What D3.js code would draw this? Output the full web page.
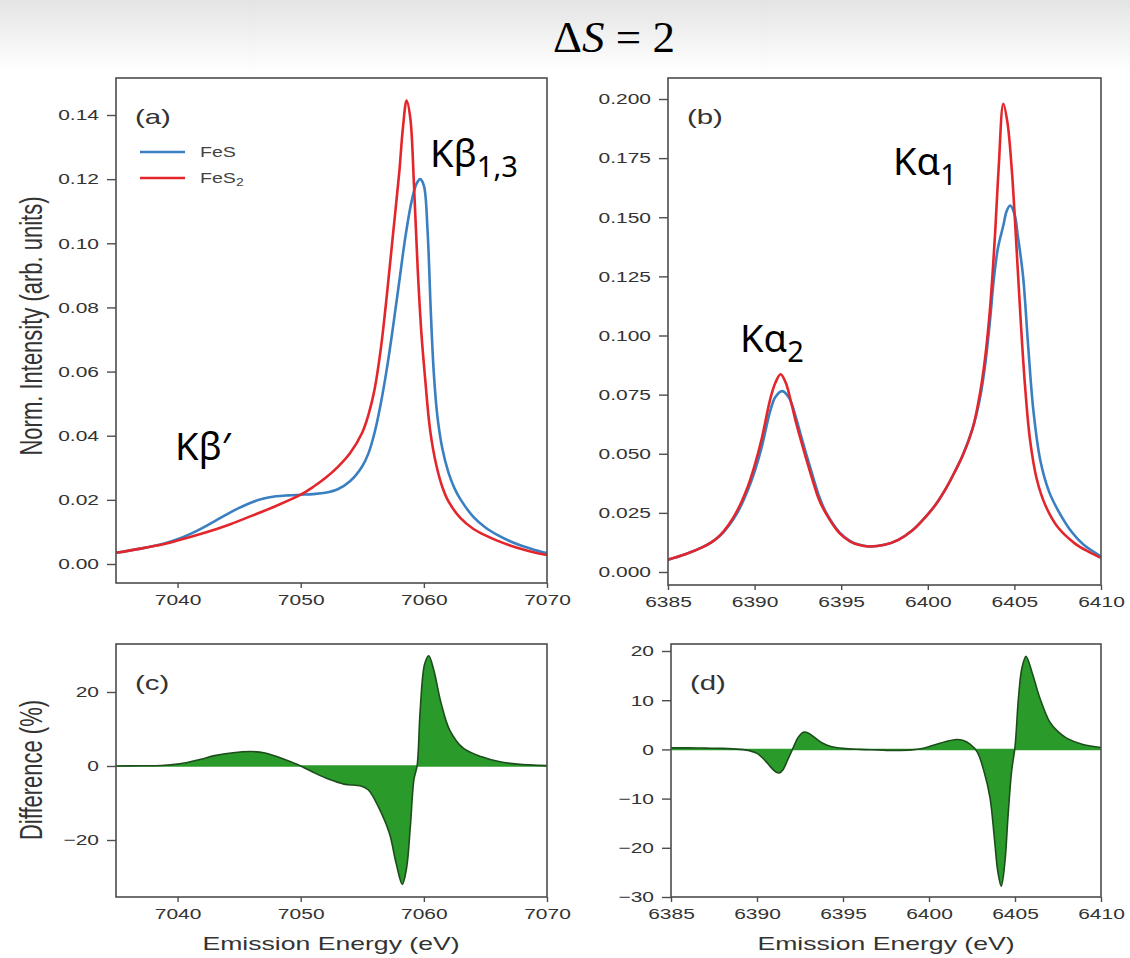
<!DOCTYPE html>
<html>
<head>
<meta charset="utf-8">
<script src="https://cdn.jsdelivr.net/npm/d3@7"></script>
<style>
  body { margin: 0; background: #fff; }
  svg { display: block; }
  .tick text { font-family: "Liberation Sans", Arial, sans-serif; font-size: 15px; fill: #333; }
  .tick line { stroke: #4d4d4d; stroke-width: 1.4; }
</style>
</head>
<body>
<svg width="1130" height="958"></svg>
<script>
// Kbeta region, panel (a)
const kbEnergyFeS = [7035, 7037, 7039, 7040, 7041, 7042, 7043, 7044, 7045, 7046, 7047, 7048, 7049, 7050, 7051, 7052, 7053, 7054, 7055, 7055.5, 7056, 7056.5, 7057, 7057.5, 7058, 7058.5, 7059, 7059.4, 7059.7, 7060, 7060.3, 7060.55, 7060.8, 7061.1, 7061.5, 7062, 7062.5, 7063, 7064, 7065, 7066, 7067, 7068, 7069, 7070];
const kbIntensityFeS = [0.0035, 0.0048, 0.0065, 0.0077, 0.0093, 0.0112, 0.0133, 0.0155, 0.0175, 0.0192, 0.0204, 0.0211, 0.0214, 0.0216, 0.0218, 0.0222, 0.0233, 0.0258, 0.0305, 0.0345, 0.0410, 0.0500, 0.0610, 0.0740, 0.0880, 0.1020, 0.1130, 0.1185, 0.1200, 0.1180, 0.1040, 0.0800, 0.0600, 0.0460, 0.0360, 0.0285, 0.0235, 0.0200, 0.0148, 0.0114, 0.0090, 0.0071, 0.0056, 0.0044, 0.0034];
const kbEnergyFeS2 = [7035, 7037, 7039, 7040, 7042, 7044, 7046, 7048, 7050, 7051, 7052, 7053, 7054, 7055, 7055.5, 7056, 7056.5, 7057, 7057.5, 7058, 7058.3, 7058.6, 7058.9, 7059.2, 7059.5, 7059.8, 7060.1, 7060.5, 7061, 7061.5, 7062, 7063, 7064, 7065, 7066, 7067, 7068, 7069, 7070];
const kbIntensityFeS2 = [0.0035, 0.0048, 0.0063, 0.0073, 0.0095, 0.0120, 0.0150, 0.0181, 0.0216, 0.0240, 0.0268, 0.0302, 0.0345, 0.0410, 0.0465, 0.0545, 0.0670, 0.0840, 0.1030, 0.1220, 0.1360, 0.1445, 0.1390, 0.1180, 0.0920, 0.0720, 0.0580, 0.0420, 0.0310, 0.0240, 0.0195, 0.0142, 0.0110, 0.0089, 0.0072, 0.0058, 0.0046, 0.0036, 0.0028];

// Kalpha region, panel (b)
const kaEnergyFeS = [6385, 6386, 6387, 6387.5, 6388, 6388.5, 6389, 6389.6, 6390, 6390.4, 6390.9, 6391.2, 6391.6, 6392.0, 6392.4, 6392.7, 6393.3, 6393.7, 6394.1, 6394.9, 6395.5, 6396, 6396.6, 6397.5, 6398.3, 6399.1, 6399.9, 6400.5, 6401.1, 6401.6, 6402, 6402.6, 6403, 6403.3, 6403.6, 6403.8, 6404.05, 6404.36, 6404.55, 6404.75, 6405.0, 6405.2, 6405.5, 6405.8, 6406.1, 6406.5, 6407, 6407.6, 6408.3, 6409, 6410];
const kaIntensityFeS = [0.0052, 0.0075, 0.0105, 0.0125, 0.0153, 0.0195, 0.0250, 0.0345, 0.0425, 0.0525, 0.0680, 0.0740, 0.0765, 0.0735, 0.0650, 0.0570, 0.0420, 0.0325, 0.0255, 0.0168, 0.0132, 0.0116, 0.0108, 0.0115, 0.0136, 0.0175, 0.0235, 0.0290, 0.0360, 0.0430, 0.0490, 0.0610, 0.0730, 0.0870, 0.1070, 0.1230, 0.1370, 0.1465, 0.1525, 0.1550, 0.1515, 0.1420, 0.1250, 0.0950, 0.0680, 0.0470, 0.0340, 0.0250, 0.0170, 0.0115, 0.0066];
const kaEnergyFeS2 = [6385, 6386, 6387, 6387.5, 6388, 6388.5, 6389, 6389.6, 6390, 6390.4, 6390.9, 6391.2, 6391.5, 6391.8, 6392.1, 6392.4, 6392.7, 6393.3, 6393.7, 6394.1, 6394.9, 6395.5, 6396, 6396.6, 6397.5, 6398.3, 6399.1, 6399.9, 6400.5, 6401.1, 6401.6, 6402, 6402.6, 6403, 6403.3, 6403.6, 6403.9, 6404.1, 6404.36, 6404.6, 6404.85, 6405.1, 6405.35, 6405.6, 6405.9, 6406.3, 6406.8, 6407.5, 6408.5, 6409.3, 6410];
const kaIntensityFeS2 = [0.0052, 0.0075, 0.0105, 0.0125, 0.0155, 0.0200, 0.0260, 0.0360, 0.0450, 0.0560, 0.0730, 0.0800, 0.0836, 0.0800, 0.0720, 0.0630, 0.0550, 0.0400, 0.0310, 0.0250, 0.0164, 0.0130, 0.0115, 0.0108, 0.0115, 0.0136, 0.0175, 0.0235, 0.0290, 0.0360, 0.0430, 0.0490, 0.0610, 0.0750, 0.0900, 0.1120, 0.1450, 0.1720, 0.1980, 0.1900, 0.1700, 0.1400, 0.1080, 0.0800, 0.0560, 0.0390, 0.0280, 0.0190, 0.0120, 0.0085, 0.0060];

// difference spectra, panels (c) and (d)
const kbDiffEnergy = [7035, 7037, 7038.7, 7040, 7040.7, 7041.9, 7043, 7044.5, 7046, 7047.1, 7048.6, 7050, 7051.2, 7052.3, 7053.5, 7054.9, 7055.5, 7056.3, 7057.2, 7057.75, 7058.25, 7058.6, 7058.9, 7059.2, 7059.45, 7059.7, 7060.06, 7060.4, 7060.8, 7061.4, 7062.1, 7063.2, 7064.7, 7066.1, 7067.6, 7070];
const kbDiff = [0, 0.05, 0.15, 0.5, 0.9, 1.8, 2.8, 3.6, 3.9, 3.5, 1.9, 0, -2.0, -3.6, -4.9, -5.4, -6.5, -11, -18.2, -26.3, -32, -27.5, -16.5, -3.5, 0, 15, 27.5, 29.8, 26, 17, 9.7, 4.8, 2.5, 1.2, 0.5, 0.1];
const kaDiffEnergy = [6385, 6386, 6387, 6388, 6389, 6389.6, 6390, 6390.4, 6390.8, 6391.1, 6391.3, 6391.5, 6391.8, 6392.1, 6392.4, 6392.7, 6393.0, 6393.4, 6393.8, 6394.3, 6395, 6396, 6397, 6398, 6399, 6399.6, 6400.3, 6401, 6401.6, 6402, 6402.4, 6402.8, 6403.2, 6403.55, 6403.8, 6404.0, 6404.2, 6404.4, 6404.6, 6404.8, 6405.0, 6405.2, 6405.4, 6405.64, 6405.97, 6406.26, 6406.45, 6407, 6407.5, 6408, 6408.95, 6410];
const kaDiff = [0.3, 0.3, 0.25, 0.2, 0.0, -0.3, -0.8, -2.0, -3.6, -4.6, -4.8, -4.2, -2.0, 0.3, 2.5, 3.5, 3.3, 2.3, 1.3, 0.6, 0.2, 0.0, -0.1, -0.2, -0.1, 0.2, 0.9, 1.6, 2.0, 1.8, 1.0, -0.5, -4.5, -9.9, -18, -24.8, -27.8, -23.4, -13.3, -4.5, 0.5, 10.4, 16.5, 18.9, 15.9, 12.5, 10.4, 5.7, 3.6, 2.3, 1.0, 0.4];

const kbTicksX = [7040, 7050, 7060, 7070];
const kaTicksX = [6385, 6390, 6395, 6400, 6405, 6410];
const kbTicksY = [0, 0.02, 0.04, 0.06, 0.08, 0.10, 0.12, 0.14];
const kaTicksY = [0, 0.025, 0.05, 0.075, 0.1, 0.125, 0.15, 0.175, 0.2];
const kbDiffTicksY = [-20, 0, 20];
const kaDiffTicksY = [-30, -20, -10, 0, 10, 20];
const seriesNames = ["FeS", "FeS2"];

const blue = "#3a7fc1", red = "#e3262c", green = "#2a9a2a", darkGreen = "#1d4d1d";
const smooth = d3.curveCatmullRom.alpha(0.5);
const S = 1.4; // the figure text is stretched sideways in the original

const svg = d3.select("svg");

// faint slide background at the top
const defs = svg.append("defs");
const grad = defs.append("linearGradient").attr("id", "topfade").attr("x1", 0).attr("y1", 0).attr("x2", 0).attr("y2", 1);
grad.append("stop").attr("offset", "0%").attr("stop-color", "#e4e4e4");
grad.append("stop").attr("offset", "100%").attr("stop-color", "#ffffff");
svg.append("rect").attr("width", 1130).attr("height", 72).attr("fill", "url(#topfade)");

// title
const title = svg.append("text")
    .attr("x", 614).attr("y", 52)
    .attr("text-anchor", "middle")
    .style("font-family", "'Liberation Serif', 'DejaVu Serif', serif")
    .style("font-size", "45px")
    .style("fill", "#000");
title.append("tspan").text("Δ");
title.append("tspan").style("font-style", "italic").text("S");
title.append("tspan").text(" = 2");

const zip = (xs, ys) => xs.map((x, i) => [x, ys[i]]);
const figText = (sel, x, y, size) => sel.append("text")
    .attr("transform", `translate(${x},${y}) scale(${S},1)`)
    .style("font-family", "'Liberation Sans', Arial, sans-serif")
    .style("font-size", size + "px").style("fill", "#333");

function makePanel(o) {
    const x = d3.scaleLinear().domain(o.xTickDomain).range(o.xTickRange);
    const y = d3.scaleLinear().domain(o.yTickDomain).range(o.yTickRange);
    const g = svg.append("g");
    const id = "clip" + o.label;
    defs.append("clipPath").attr("id", id).append("rect")
        .attr("x", o.left).attr("y", o.top)
        .attr("width", o.right - o.left).attr("height", o.bottom - o.top);

    g.append("g").attr("transform", `translate(0,${o.bottom})`)
        .call(d3.axisBottom(x).tickValues(o.xTicks).tickSize(5).tickPadding(6).tickFormat(d3.format("d")))
        .call(a => a.select(".domain").remove())
        .call(a => a.selectAll(".tick text").attr("transform", `scale(${S},1)`));
    g.append("g").attr("transform", `translate(${o.left},0)`)
        .call(d3.axisLeft(y).tickValues(o.yTicks).tickSize(9).tickPadding(8).tickFormat(o.yFormat))
        .call(a => a.select(".domain").remove())
        .call(a => a.selectAll(".tick text").attr("x", -17 / S).attr("transform", `scale(${S},1)`));

    const plot = g.append("g").attr("clip-path", `url(#${id})`);
    g.append("rect")
        .attr("x", o.left).attr("y", o.top)
        .attr("width", o.right - o.left).attr("height", o.bottom - o.top)
        .attr("fill", "none").attr("stroke", "#4d4d4d").attr("stroke-width", 1.6);

    figText(g, o.left + 19, o.top + 46, 21).text(`(${o.label})`);
    return { x, y, plot, g };
}

const minus = d => d < 0 ? "\u2212" + Math.abs(d) : String(d);

// panel (a)
const pa = makePanel({
    label: "a", left: 116, right: 547, top: 78, bottom: 583,
    xTickDomain: [7035, 7070], xTickRange: [116, 547],
    yTickDomain: [0, 0.14], yTickRange: [564, 115],
    xTicks: kbTicksX, yTicks: kbTicksY, yFormat: d3.format(".2f")
});
const lineA = d3.line().x(d => pa.x(d[0])).y(d => pa.y(d[1])).curve(smooth);
pa.plot.append("path").datum(zip(kbEnergyFeS, kbIntensityFeS))
    .attr("d", lineA).attr("fill", "none").attr("stroke", blue).attr("stroke-width", 2.6);
pa.plot.append("path").datum(zip(kbEnergyFeS2, kbIntensityFeS2))
    .attr("d", lineA).attr("fill", "none").attr("stroke", red).attr("stroke-width", 2.6);

// legend in (a)
const legend = pa.g.append("g");
[blue, red].forEach((c, i) => {
    legend.append("line").attr("x1", 140).attr("x2", 185)
        .attr("y1", 152 + i * 26).attr("y2", 152 + i * 26)
        .attr("stroke", c).attr("stroke-width", 2.6);
    const t = figText(legend, 200, 157 + i * 26, 14).style("fill", "#444");
    t.append("tspan").text(seriesNames[i].replace(/2$/, ""));
    if (/2$/.test(seriesNames[i])) t.append("tspan").attr("dy", 3).style("font-size", "10px").text("2");
});

// panel (b)
const pb = makePanel({
    label: "b", left: 668, right: 1101, top: 78, bottom: 585,
    xTickDomain: [6385, 6410], xTickRange: [668, 1101],
    yTickDomain: [0, 0.2], yTickRange: [572, 99],
    xTicks: kaTicksX, yTicks: kaTicksY, yFormat: d3.format(".3f")
});
const lineB = d3.line().x(d => pb.x(d[0])).y(d => pb.y(d[1])).curve(smooth);
pb.plot.append("path").datum(zip(kaEnergyFeS, kaIntensityFeS))
    .attr("d", lineB).attr("fill", "none").attr("stroke", blue).attr("stroke-width", 2.6);
pb.plot.append("path").datum(zip(kaEnergyFeS2, kaIntensityFeS2))
    .attr("d", lineB).attr("fill", "none").attr("stroke", red).attr("stroke-width", 2.6);

// panel (c)
const pc = makePanel({
    label: "c", left: 116, right: 547, top: 644, bottom: 897,
    xTickDomain: [7035, 7070], xTickRange: [116, 547],
    yTickDomain: [-20, 20], yTickRange: [840, 692],
    xTicks: kbTicksX, yTicks: kbDiffTicksY, yFormat: minus
});
const areaC = d3.area().x(d => pc.x(d[0])).y0(pc.y(0)).y1(d => pc.y(d[1])).curve(smooth);
const lineC = d3.line().x(d => pc.x(d[0])).y(d => pc.y(d[1])).curve(smooth);
const dataC = zip(kbDiffEnergy, kbDiff);
pc.plot.append("path").datum(dataC).attr("d", areaC).attr("fill", green);
pc.plot.append("line").attr("x1", 116).attr("x2", 547).attr("y1", pc.y(0)).attr("y2", pc.y(0))
    .attr("stroke", green).attr("stroke-width", 1.5);
pc.plot.append("path").datum(dataC).attr("d", lineC)
    .attr("fill", "none").attr("stroke", darkGreen).attr("stroke-width", 1.6);

// panel (d)
const pd = makePanel({
    label: "d", left: 671, right: 1101, top: 644, bottom: 897,
    xTickDomain: [6385, 6410], xTickRange: [671, 1101],
    yTickDomain: [-30, 20], yTickRange: [897, 651],
    xTicks: kaTicksX, yTicks: kaDiffTicksY, yFormat: minus
});
const areaD = d3.area().x(d => pd.x(d[0])).y0(pd.y(0)).y1(d => pd.y(d[1])).curve(smooth);
const lineD = d3.line().x(d => pd.x(d[0])).y(d => pd.y(d[1])).curve(smooth);
const dataD = zip(kaDiffEnergy, kaDiff);
pd.plot.append("path").datum(dataD).attr("d", areaD).attr("fill", green);
pd.plot.append("line").attr("x1", 671).attr("x2", 1101).attr("y1", pd.y(0)).attr("y2", pd.y(0))
    .attr("stroke", green).attr("stroke-width", 1.5);
pd.plot.append("path").datum(dataD).attr("d", lineD)
    .attr("fill", "none").attr("stroke", darkGreen).attr("stroke-width", 1.6);

// axis titles
const titleFont = t => t.style("font-family", "'Liberation Sans', Arial, sans-serif")
    .style("fill", "#333").attr("text-anchor", "middle");
svg.append("text").attr("transform", `translate(42,326) scale(${S},1) rotate(-90)`).call(titleFont)
    .style("font-size", "22px").text("Norm. Intensity (arb. units)");
svg.append("text").attr("transform", `translate(42,770) scale(${S},1) rotate(-90)`).call(titleFont)
    .style("font-size", "22px").text("Difference (%)");
svg.append("text").attr("transform", `translate(331,950) scale(${S},1)`).call(titleFont)
    .style("font-size", "19px").text("Emission Energy (eV)");
svg.append("text").attr("transform", `translate(886,950) scale(${S},1)`).call(titleFont)
    .style("font-size", "19px").text("Emission Energy (eV)");

// peak annotations
function annotate(xp, yp, main, sub) {
    const t = svg.append("text").attr("x", xp).attr("y", yp)
        .style("font-family", "'Noto Sans', 'Open Sans', sans-serif")
        .style("font-size", "38px").style("fill", "#000");
    t.append("tspan").text(main);
    if (sub) t.append("tspan").attr("dy", 10).style("font-size", "29px").text(sub);
}
annotate(430, 167, "Kβ", "1,3");
annotate(175, 460, "Kβ′");
annotate(893, 175, "Kα", "1");
annotate(740, 352, "Kα", "2");
</script>
</body>
</html>
